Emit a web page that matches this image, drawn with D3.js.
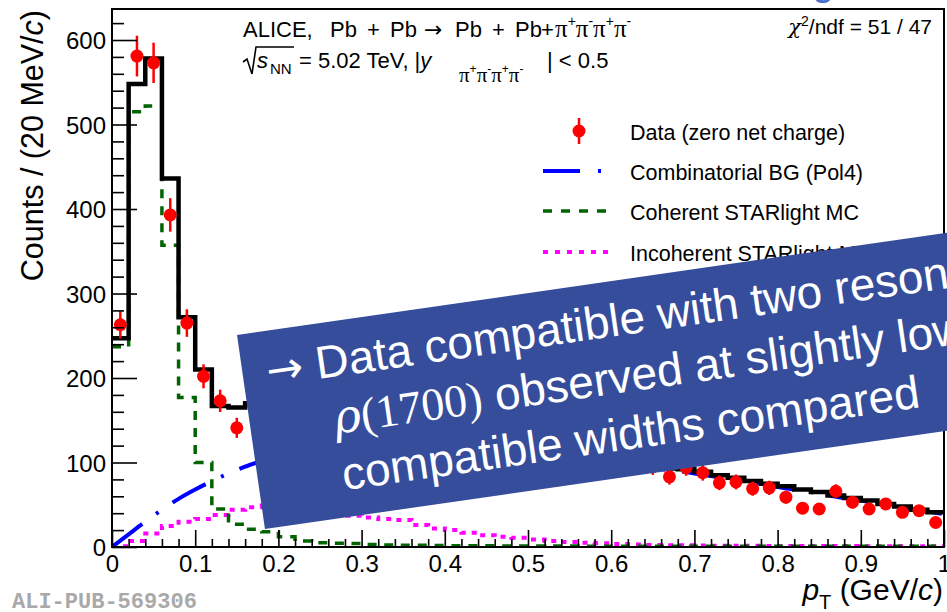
<!DOCTYPE html>
<html><head><meta charset="utf-8">
<script src="https://cdn.jsdelivr.net/npm/d3@7"></script>
<style>
body{margin:0;background:#fff;}
svg{display:block;}
</style>
</head><body>
<svg id="c" width="947" height="612" font-family="Liberation Sans, Arial, Helvetica, sans-serif"></svg>
<script>
// ---------------- data ----------------
const binCenters = [0.01,0.03,0.05,0.07,0.09,0.11,0.13,0.15,0.17,0.19,0.21,0.23,0.25,0.27,0.29,0.31,0.33,0.35,0.37,0.39,0.41,0.43,0.45,0.47,0.49,0.51,0.53,0.55,0.57,0.59,0.61,0.63,0.65,0.67,0.69,0.71,0.73,0.75,0.77,0.79,0.81,0.83,0.85,0.87,0.89,0.91,0.93,0.95,0.97,0.99];
const dataCounts = [263,581,573,393,265,202,173,141,168,180,166,184,170,178,163,175,160,168,150,159,146,150,137,140,128,133,121,118,112,110,100,104,95,83,94,88,76,77,69,70,59,46,45,66,53,45,51,41,43,29];
const dataErrors = [16.2,24.1,23.9,19.8,16.3,14.2,13.2,11.9,13.0,13.4,12.9,13.6,13.0,13.3,12.8,13.2,12.6,13.0,12.2,12.6,12.1,12.2,11.7,11.8,11.3,11.5,11.0,10.9,10.6,10.5,10.0,10.2,9.7,9.1,9.7,9.4,8.7,8.8,8.3,8.4,7.7,6.8,6.7,8.1,7.3,6.7,7.1,6.4,6.6,5.4];
const totalFit = [247,548,578,436,272,210,167,165,170,172,171,173,173,173,173,171,169,166,161,155,151,146,141,137,133,127,122,118,113,110,103,99,96,93,92,89,85,82,78,75,72,68,65,61,58,55,51,48,44,41];
const coherent = [237,515,522,357,177,100,45,27,21,18,12,7,5,4.5,4,3,2.5,2,2,1.8,1.6,1.5,1.4,1.3,1.2,1.2,1.1,1.1,1,1,1,1,1,1,1,1,1,1,1,1,1,1,1,1,1,1,1,1,1,1];
const incoherent = [1,7,16,25,30,33,38,44,47,49,50,49,47,44,37,35,33,32,26,22,20,17,14,12,11,9,7,6,5,4.5,3.5,3,2.5,2.2,2,1.8,1.6,1.5,1.4,1.3,1.2,1.2,1.1,1.1,1.1,1,1,1,1,1];
const bgX = [0,0.02,0.04,0.06,0.08,0.10,0.12,0.14,0.16,0.18,0.20,0.22,0.24,0.26,0.28,0.30,0.32,0.34,0.36,0.38,0.40,0.42,0.44,0.46,0.48,0.50,0.52,0.54,0.56,0.58,0.60,0.62,0.64,0.66,0.68,0.70,0.72,0.74,0.76,0.78,0.80,0.82,0.84,0.86,0.88,0.90,0.92,0.94,0.96,0.98,1.00];
const bgY = [0,15,30,44,57,68,78,87,95,102,109,115,120,124,127,129,131,132,132,132,131,129,127,124,121,118,114,111,107,104,100,97,94,92,90,87,84,81,78,75,71,68,65,61,58,55,51,48,45,42,39];
const yMajorTicks = [0,100,200,300,400,500,600];
const yMinorTicks = [20,40,60,80,120,140,160,180,220,240,260,280,320,340,360,380,420,440,460,480,520,540,560,580,620];
const xMajorTicks = [0,0.1,0.2,0.3,0.4,0.5,0.6,0.7,0.8,0.9,1.0];
const xTickLabels = ["0","0.1","0.2","0.3","0.4","0.5","0.6","0.7","0.8","0.9","1"];
const xMinorTicks = [0.02,0.04,0.06,0.08,0.12,0.14,0.16,0.18,0.22,0.24,0.26,0.28,0.32,0.34,0.36,0.38,0.42,0.44,0.46,0.48,0.52,0.54,0.56,0.58,0.62,0.64,0.66,0.68,0.72,0.74,0.76,0.78,0.82,0.84,0.86,0.88,0.92,0.94,0.96,0.98];
const legendLabels = ["Data (zero net charge)","Combinatorial BG (Pol4)","Coherent STARlight MC","Incoherent STARlight MC"];
const binHalfWidth = 0.01;

// ---------------- layout ----------------
const L = 112, R = 944, T = 9, B = 547;
const x = d3.scaleLinear().domain([0,1]).range([L,R]);
const y = d3.scaleLinear().domain([0,636.7]).range([B,T]);
const svg = d3.select("#c");

svg.append("clipPath").attr("id","frameclip").append("rect")
  .attr("x",L).attr("y",T).attr("width",R-L).attr("height",B-T);
const plot = svg.append("g").attr("clip-path","url(#frameclip)");

function stepPts(vals){
  const pts = vals.map((v,i)=>[binCenters[i]-binHalfWidth, v]);
  pts.push([binCenters[binCenters.length-1]+binHalfWidth, vals[vals.length-1]]);
  return pts;
}
const stepLine = d3.line().x(d=>x(d[0])).y(d=>y(d[1])).curve(d3.curveStepAfter);

plot.append("path").attr("d",stepLine(stepPts(incoherent)))
  .attr("fill","none").attr("stroke","#ff00ff").attr("stroke-width",4).attr("stroke-dasharray","5,6");
plot.append("path").attr("d",stepLine(stepPts(coherent)))
  .attr("fill","none").attr("stroke","#006400").attr("stroke-width",3.5).attr("stroke-dasharray","9,8");
const bgLine = d3.line().x((d,i)=>x(bgX[i])).y(d=>y(d)).curve(d3.curveMonotoneX);
plot.append("path").attr("d",bgLine(bgY))
  .attr("fill","none").attr("stroke","#0000ff").attr("stroke-width",4).attr("stroke-dasharray","38,17,3,17");
plot.append("path").attr("d",stepLine(stepPts(totalFit)))
  .attr("fill","none").attr("stroke","#000").attr("stroke-width",4.5);

const pts = plot.append("g");
pts.selectAll("line").data(dataCounts).join("line")
  .attr("x1",(d,i)=>x(binCenters[i])).attr("x2",(d,i)=>x(binCenters[i]))
  .attr("y1",(d,i)=>y(d-dataErrors[i])).attr("y2",(d,i)=>y(d+dataErrors[i]))
  .attr("stroke","#ff0000").attr("stroke-width",2.5);
pts.selectAll("circle").data(dataCounts).join("circle")
  .attr("cx",(d,i)=>x(binCenters[i])).attr("cy",d=>y(d)).attr("r",6.5).attr("fill","#ff0000");

// axes (ROOT style, inward ticks)
const yMaj = svg.append("g").attr("transform",`translate(${L},0)`)
  .call(d3.axisLeft(y).tickValues(yMajorTicks).tickSize(-25).tickPadding(6).tickFormat(d3.format("d")));
const yMin = svg.append("g").attr("transform",`translate(${L},0)`)
  .call(d3.axisLeft(y).tickValues(yMinorTicks).tickSize(-12).tickFormat(""));
const xMaj = svg.append("g").attr("transform",`translate(0,${B})`)
  .call(d3.axisBottom(x).tickValues(xMajorTicks).tickSize(-17).tickPadding(8).tickFormat((d,i)=>xTickLabels[i]));
const xMin = svg.append("g").attr("transform",`translate(0,${B})`)
  .call(d3.axisBottom(x).tickValues(xMinorTicks).tickSize(-8).tickFormat(""));
[yMaj,yMin,xMaj,xMin].forEach(g=>{
  g.attr("font-family",null).attr("font-size",null);
  g.select(".domain").remove();
  g.selectAll(".tick line").attr("stroke","#000").attr("stroke-width",1.6);
  g.selectAll("text").attr("font-size",24).attr("fill","#000");
});
yMaj.selectAll("text").attr("dy","0.36em");
xMaj.selectAll("text").attr("dy","0.72em");

svg.append("rect").attr("x",L).attr("y",T).attr("width",R-L).attr("height",B-T)
  .attr("fill","none").attr("stroke","#000").attr("stroke-width",2);

// axis titles
const yt = svg.append("text").attr("transform",`translate(43,${T+1}) rotate(-90)`)
  .attr("text-anchor","end").attr("font-size",30.5);
yt.append("tspan").text("Counts / (20 MeV/");
yt.append("tspan").attr("font-style","italic").text("c");
yt.append("tspan").text(")");

const xt = svg.append("text").attr("x",943).attr("y",600).attr("text-anchor","end").attr("font-size",30);
xt.append("tspan").attr("font-style","italic").text("p");
xt.append("tspan").attr("font-size",20).attr("dy",9).text("T");
xt.append("tspan").attr("dy",-9).text(" (GeV/");
xt.append("tspan").attr("font-style","italic").text("c");
xt.append("tspan").text(")");

// pi-string helper: flows sequentially (no overlaps)
function pis(parent, x0, base, fs, sfs){
  const signs = ["+","-","+","-"];
  const rise = Math.round(fs*0.42);
  signs.forEach((s,i)=>{
    const p = parent.append("tspan").attr("font-size",fs).attr("font-family","Liberation Serif, serif").text("\u03c0");
    if(i===0) p.attr("x",x0).attr("y",base);
    else p.attr("dy",rise);
    parent.append("tspan").attr("font-size",sfs).attr("dy",-rise).text(s);
  });
  parent.append("tspan").attr("dy",rise).text("");
}

// header line 1
const h1 = svg.append("text").attr("y",37).attr("font-size",22);
h1.append("tspan").attr("x",243).text("ALICE,");
h1.append("tspan").attr("x",330).text("Pb");
h1.append("tspan").attr("x",367).text("+");
h1.append("tspan").attr("x",390).text("Pb");
h1.append("tspan").attr("x",424).attr("font-family","DejaVu Sans, sans-serif").attr("font-size",22).text("\u2192");
h1.append("tspan").attr("x",455).text("Pb");
h1.append("tspan").attr("x",492).text("+");
h1.append("tspan").attr("x",515).text("Pb");
h1.append("tspan").attr("x",541).text("+");
pis(h1, 555, 37, 25, 14);

// header line 2
svg.append("path").attr("d","M243,62 L247,59 L252,74 L256,47 L294,47")
  .attr("fill","none").attr("stroke","#000").attr("stroke-width",1.6);
const h2 = svg.append("text").attr("y",68).attr("font-size",22);
h2.append("tspan").attr("x",257).attr("font-style","italic").text("s");
h2.append("tspan").attr("x",270).attr("y",74).attr("font-size",15).text("NN");
h2.append("tspan").attr("x",299).attr("y",68).text("= 5.02 TeV, |");
h2.append("tspan").attr("font-style","italic").text("y");
pis(h2, 459, 82, 21, 12);
h2.append("tspan").attr("x",547).attr("y",68).text("| < 0.5");

// chi2
const ch = svg.append("text").attr("x",932).attr("y",34).attr("text-anchor","end").attr("font-size",21);
ch.append("tspan").attr("font-style","italic").attr("font-family","DejaVu Serif, serif").text("\u03c7");
ch.append("tspan").attr("font-size",14).attr("dy",-8).text("2");
ch.append("tspan").attr("dy",8).text("/ndf = 51 / 47");

// legend
const legY = [131,171,211,252];
const lg = svg.append("g");
lg.append("line").attr("x1",579).attr("x2",579).attr("y1",legY[0]-13).attr("y2",legY[0]+13).attr("stroke","#ff0000").attr("stroke-width",2.5);
lg.append("circle").attr("cx",579).attr("cy",legY[0]).attr("r",6.5).attr("fill","#ff0000");
lg.append("line").attr("x1",543).attr("x2",608).attr("y1",legY[1]).attr("y2",legY[1]).attr("stroke","#0000ff").attr("stroke-width",4).attr("stroke-dasharray","37,18,3,18");
lg.append("line").attr("x1",543).attr("x2",610).attr("y1",legY[2]).attr("y2",legY[2]).attr("stroke","#006400").attr("stroke-width",3.5).attr("stroke-dasharray","9,9");
lg.append("line").attr("x1",543).attr("x2",615).attr("y1",legY[3]).attr("y2",legY[3]).attr("stroke","#ff00ff").attr("stroke-width",4).attr("stroke-dasharray","5,7");
lg.selectAll("text").data(legendLabels).join("text")
  .attr("x",630).attr("y",(d,i)=>legY[i]+9).attr("font-size",21.5).text(d=>d);

// publication id
svg.append("text").attr("x",12).attr("y",608).attr("font-size",22).attr("font-weight","bold")
  .attr("font-family","Liberation Mono, DejaVu Sans Mono, monospace").attr("fill","#a9a9a9").text("ALI-PUB-569306");

// fragment of slide title above the figure
svg.append("text").attr("x",812).attr("y",-5).attr("font-size",40).attr("fill","#4a6fd0").text("g");

// overlay banner
const banner = svg.append("g").attr("transform","translate(237,335) rotate(-8.2)");
banner.append("rect").attr("x",0).attr("y",0).attr("width",1000).attr("height",196).attr("fill","#364d9b");
const b1 = banner.append("text").attr("x",24).attr("y",55).attr("font-size",46).attr("fill","#fff");
b1.append("tspan").attr("font-family","DejaVu Sans, sans-serif").attr("font-size",44).text("\u2192");
b1.append("tspan").text(" Data compatible with two resonances");
const b2 = banner.append("text").attr("x",84).attr("y",112).attr("font-size",46).attr("fill","#fff");
b2.append("tspan").attr("font-family","DejaVu Serif, serif").attr("font-style","italic").text("\u03c1");
b2.append("tspan").attr("font-family","Liberation Serif, serif").text("(1700)");
b2.append("tspan").text(" observed at slightly lower");
const b3 = banner.append("text").attr("x",84).attr("y",169).attr("font-size",46).attr("fill","#fff");
b3.text("compatible widths compared");
</script>
</body></html>
